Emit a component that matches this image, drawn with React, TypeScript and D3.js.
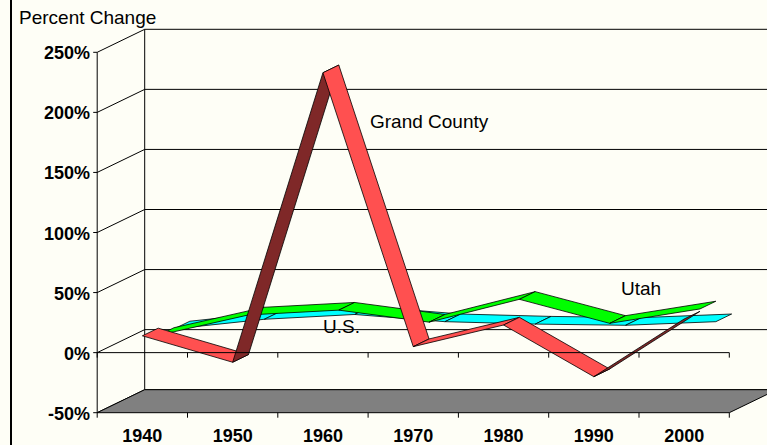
import React from "react";
import * as d3 from "d3";

// decade labels and percent change per decade
const decades = ["1940", "1950", "1960", "1970", "1980", "1990", "2000"];
const grandCounty = [14, -8, 233, 5, 23, -20, 28];
const utah = [8, 25, 29, 19, 38, 18, 30];
const us = [7, 15, 19, 13, 11, 10, 13];
const yTicks = [-50, 0, 50, 100, 150, 200, 250];

const W = 767;
const H = 445;
const DX = 47.5; // depth offset of the back wall
const DY = -23;
const FONT = "Arial, 'Liberation Sans', sans-serif";

// back row first so the front one is painted last
const seriesList = [
  { name: "U.S.", values: us, row: 2, light: "#00ffff", dark: "#008080" },
  { name: "Utah", values: utah, row: 1, light: "#00ff00", dark: "#008000" },
  { name: "Grand County", values: grandCounty, row: 0, light: "#ff5050", dark: "#7f2828" },
];

const App = () => {
  const x = d3.scaleBand().domain(decades).range([97.2, 729.3]);
  const y = d3.scaleLinear().domain([-50, 250]).range([412.7, 52.3]);
  const bw = x.bandwidth();
  const x0 = x.range()[0];
  const x1 = x.range()[1];

  const proj = (i, v, d) => [x(decades[i]) + bw / 2 + d * DX, y(v) + d * DY];

  const ribbons = seriesList.map((s) => {
    const d0 = s.row / 3;
    const d1 = (s.row + 1) / 3;
    const segs = [];
    for (let i = 0; i < s.values.length - 1; i++) {
      const a = proj(i, s.values[i], d0);
      const b = proj(i + 1, s.values[i + 1], d0);
      const c = proj(i + 1, s.values[i + 1], d1);
      const e = proj(i, s.values[i], d1);
      // facing: underside shows dark when the segment climbs steeper than the depth
      const cross = (b[0] - a[0]) * DY - (b[1] - a[1]) * DX;
      segs.push({ pts: [a, b, c, e], fill: cross < 0 ? s.light : s.dark });
    }
    return { name: s.name, segs };
  });

  const poly = (pts) => pts.map((p) => p.join(",")).join(" ");
  const yBottom = y(-50);
  const yZero = y(0);
  const edges = [...decades.map((c) => x(c)), x1];

  return (
    <svg
      width={W}
      height={H}
      style={{ position: "absolute", left: 0, top: 0, display: "block" }}
    >
      <rect width={W} height={H} fill="#fefef6" />
      <line x1={11} x2={11} y1={0} y2={H} stroke="#000" strokeWidth={2} />

      {/* back wall gridlines and side wall */}
      {yTicks.map((t) => (
        <g key={t}>
          <line x1={x0 + DX} x2={x1 + DX} y1={y(t) + DY} y2={y(t) + DY} stroke="#000" />
          <line x1={x0} x2={x0 + DX} y1={y(t)} y2={y(t) + DY} stroke="#000" />
          <line x1={x0 - 4} x2={x0} y1={y(t)} y2={y(t)} stroke="#000" />
          <text
            x={90}
            y={y(t) + 7}
            textAnchor="end"
            fontFamily={FONT}
            fontWeight="bold"
            fontSize={18}
            fill="#000"
          >
            {t}%
          </text>
        </g>
      ))}
      <line x1={x0} x2={x0} y1={y(250)} y2={yBottom} stroke="#000" />
      <line x1={x0 + DX} x2={x0 + DX} y1={y(250) + DY} y2={yBottom + DY} stroke="#000" />

      {/* floor */}
      <polygon
        points={poly([
          [x0, yBottom],
          [x1, yBottom],
          [x1 + DX, yBottom + DY],
          [x0 + DX, yBottom + DY],
        ])}
        fill="#808080"
        stroke="#000"
      />
      {edges.map((ex, i) => (
        <line key={i} x1={ex} x2={ex} y1={yBottom} y2={yBottom + 5} stroke="#000" />
      ))}

      {/* ribbons */}
      {ribbons.map((r) => (
        <g key={r.name}>
          {r.segs.map((s, i) => (
            <polygon
              key={i}
              points={poly(s.pts)}
              fill={s.fill}
              stroke="#000"
              strokeWidth={0.8}
              strokeLinejoin="round"
            />
          ))}
        </g>
      ))}

      {/* front zero axis */}
      <line x1={x0} x2={x1} y1={yZero} y2={yZero} stroke="#000" />
      {edges.map((ex, i) => (
        <line key={i} x1={ex} x2={ex} y1={yZero} y2={yZero + 5} stroke="#000" />
      ))}

      {decades.map((c) => (
        <text
          key={c}
          x={x(c) + bw / 2}
          y={442}
          textAnchor="middle"
          fontFamily={FONT}
          fontWeight="bold"
          fontSize={18}
          fill="#000"
        >
          {c}
        </text>
      ))}

      <g fontFamily={FONT} fontSize={19} fill="#000">
        <text x={19} y={24}>Percent Change</text>
        <text x={370} y={128}>Grand County</text>
        <text x={621} y={295}>Utah</text>
        <text x={323} y={333}>U.S.</text>
      </g>
    </svg>
  );
};

export default App;
